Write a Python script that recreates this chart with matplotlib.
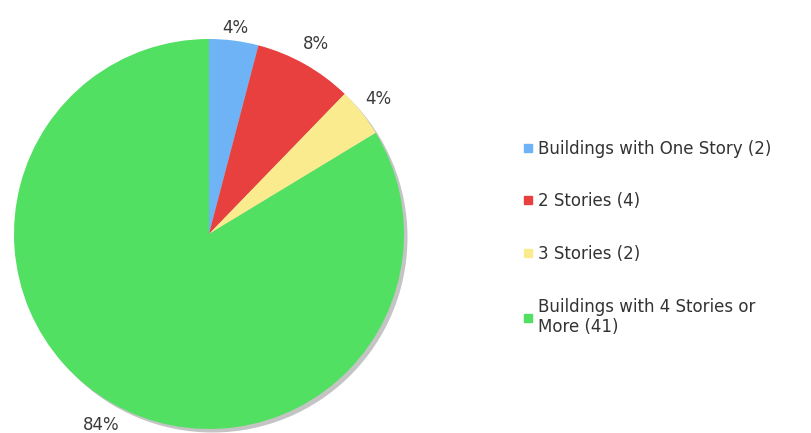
import numpy as np
import matplotlib.pyplot as plt
from matplotlib.lines import Line2D
from matplotlib.patches import Circle

# data
categories = ['Buildings with One Story', '2 Stories', '3 Stories',
              'Buildings with 4 Stories or\nMore']
counts = [2, 4, 2, 41]
pct_labels = ['4%', '8%', '4%', '84%']
colors = ['#6db3f6', '#e8403e', '#faec8e', '#52e062']
label_r = [1.067, 1.12, 1.11, 1.125]  # radial distance of each % label

plt.rcParams['font.family'] = ['DejaVu Sans']

fig = plt.figure(figsize=(8.12, 4.33), dpi=100)
ax = fig.add_axes([0.01724, 0.00924, 0.4803, 0.9007])

# soft grey shadow behind the pie
ax.add_patch(Circle((0.018, -0.018), 1.0, color='#c4c4c4', zorder=0, lw=0,
                    clip_on=False))

wedges, texts = ax.pie(counts, labels=pct_labels, colors=colors, startangle=90,
                       counterclock=False,
                       wedgeprops={'linewidth': 0, 'zorder': 1},
                       textprops={'fontsize': 12, 'color': '#3a3a3a'})
for w, t, r in zip(wedges, texts, label_r):
    ang = np.deg2rad((w.theta1 + w.theta2) / 2)
    t.set_position((r * np.cos(ang), r * np.sin(ang)))
    t.set_ha('center')
    t.set_va('center')
    t.set_clip_on(False)

ax.set_xlim(-1, 1)
ax.set_ylim(-1, 1)
ax.set_aspect('equal')
ax.axis('off')

handles = [Line2D([], [], marker='s', ls='', markersize=6, color=c)
           for c in colors]
labels = [f'{c} ({n})' for c, n in zip(categories, counts)]
fig.legend(handles, labels, loc='upper left', bbox_to_anchor=(0.634, 0.697),
           frameon=False, fontsize=12, labelspacing=2.08, handlelength=0.55,
           handletextpad=0.35, borderpad=0, labelcolor='#333333')

fig.savefig('out.png', dpi=100)
